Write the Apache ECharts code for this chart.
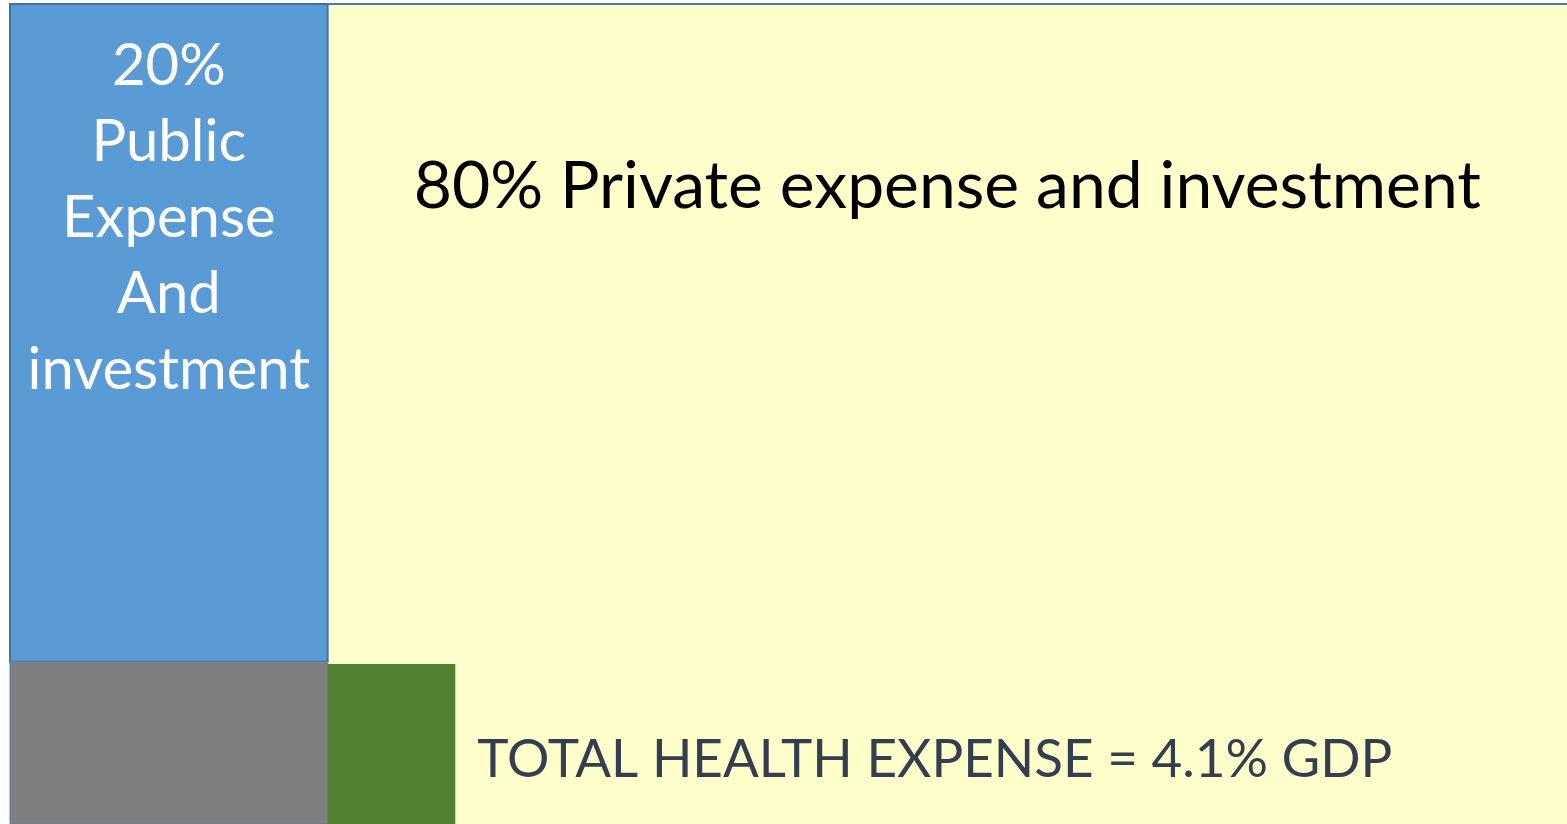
<!DOCTYPE html>
<html>
<head>
<meta charset="utf-8">
<script src="https://cdn.jsdelivr.net/npm/echarts@6/dist/echarts.min.js"></script>
<style>
  html, body { margin: 0; padding: 0; background: #ffffff; }
  #main { width: 1567px; height: 824px; }
</style>
</head>
<body>
<div id="main"></div>
<script>
// 数据：马赛克图的每一块（x 方向为支出占比，y 方向为层级）
const blocks = ['Private', 'Public', 'Public base', 'Private base'];
const shareStart = [20.4, 0, 0, 20.4];
const shareEnd = [100, 20.4, 20.4, 28.6];
const levelStart = [0, 19.8, 0, 0];
const levelEnd = [100, 100, 19.8, 19.5];
const blockLabels = [
  '80% Private expense and investment',
  '20%\nPublic\nExpense\nAnd\ninvestment',
  '',
  'TOTAL HEALTH EXPENSE = 4.1% GDP'
];

// 样式
const fills = ['#FFFFCC', '#5B9BD5', '#7F7F7F', '#548235'];

let myChart = echarts.init(document.getElementById('main'));

let option = {
  animation: false,
  grid: { left: 10, right: 0, top: 4, bottom: 0 },
  xAxis: { type: 'value', min: 0, max: 100, show: false },
  yAxis: { type: 'value', min: 0, max: 100, show: false },
  series: [
    {
      type: 'custom',
      data: blocks.map((b, i) => [shareStart[i], shareEnd[i], levelStart[i], levelEnd[i], i]),
      renderItem: function (params, api) {
        const i = api.value(4);
        const p0 = api.coord([api.value(0), api.value(3)]);
        const p1 = api.coord([api.value(1), api.value(2)]);
        const shape = { x: p0[0], y: p0[1], width: p1[0] - p0[0], height: p1[1] - p0[1] };
        let rect = {
          type: 'rect',
          shape: shape,
          style: { fill: fills[i], stroke: null }
        };
        if (i === 0) {
          // 私人支出：居中靠上的大字
          rect.textContent = {
            style: { text: blockLabels[i], fill: '#000000', font: '66px Lato', align: 'center' }
          };
          rect.textConfig = { position: 'insideTop', distance: 150 };
          return {
            type: 'group',
            children: [
              rect,
              {
                type: 'line',
                shape: { x1: shape.x, y1: shape.y, x2: shape.x + shape.width, y2: shape.y },
                style: { stroke: '#4A7EBB', lineWidth: 2 }
              }
            ]
          };
        }
        if (i === 1) {
          rect.style.stroke = '#41719C';
          rect.style.lineWidth = 2;
          rect.textContent = {
            style: { text: blockLabels[i], fill: '#ffffff', font: '58px Lato', lineHeight: 76, align: 'center' }
          };
          rect.textConfig = { position: 'insideTop', distance: 25 };
        }
        if (i === 2) {
          rect.style.stroke = '#5B7FA8';
          rect.style.lineWidth = 1;
        }
        if (i === 3) {
          rect.textContent = {
            style: { text: blockLabels[i], fill: '#333F50', font: '53px Lato' }
          };
          rect.textConfig = { position: 'right', distance: 22, offset: [0, 16] };
        }
        return rect;
      }
    }
  ]
};

option && myChart.setOption(option);
</script>
</body>
</html>
